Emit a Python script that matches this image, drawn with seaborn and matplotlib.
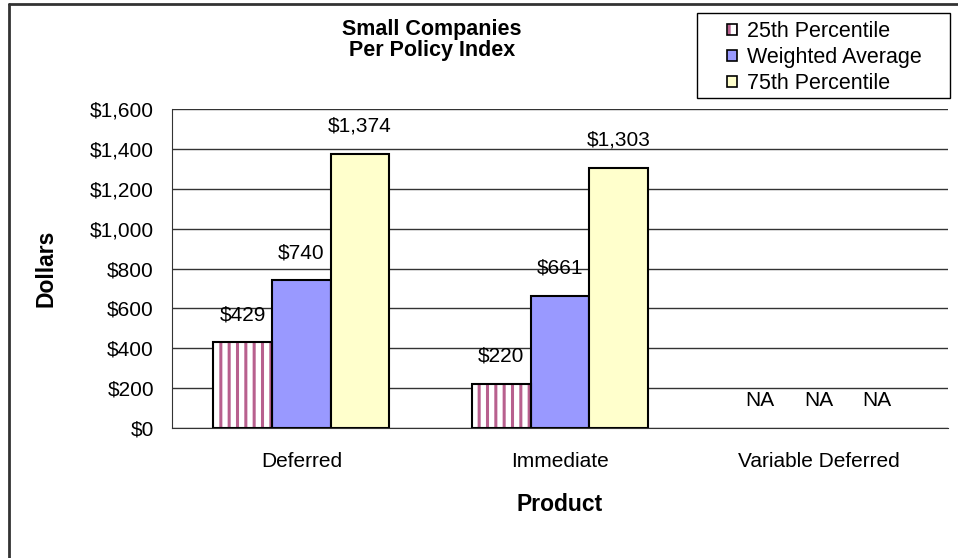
import pandas
import numpy
import matplotlib
matplotlib.use("Agg")
import matplotlib.pyplot as pyplot
import seaborn
from matplotlib.patches import Patch, Rectangle
from matplotlib.lines import Line2D
from matplotlib.ticker import StrMethodFormatter

# data
products = ["Deferred", "Immediate", "Variable Deferred"]
series = ["25th Percentile", "Weighted Average", "75th Percentile"]
p25 = [429, 220, numpy.nan]
weighted = [740, 661, numpy.nan]
p75 = [1374, 1303, numpy.nan]
colors = ["#FFFFFF", "#9999FF", "#FFFFCC"]
stripe_color = "#B8608E"

df = pandas.DataFrame(
    {
        "Product": products * 3,
        "Series": [s for s in series for _ in products],
        "Value": p25 + weighted + p75,
    }
)

# style
seaborn.set_style("white")
pyplot.rcParams["font.family"] = ["Liberation Sans", "DejaVu Sans"]
pyplot.rcParams["font.size"] = 15
pyplot.rcParams["hatch.linewidth"] = 2.2
for key in ["text.color", "axes.labelcolor", "xtick.color", "ytick.color"]:
    pyplot.rcParams[key] = "black"

W, H = 958, 558
fig = pyplot.figure(figsize=(W / 100, H / 100), dpi=100)
ax = fig.add_axes([172 / W, 1 - 428 / H, 776 / W, 319 / H])

seaborn.barplot(
    data=df,
    x="Product",
    y="Value",
    hue="Series",
    order=products,
    hue_order=series,
    palette=colors,
    saturation=1,
    width=0.68,
    edgecolor="black",
    linewidth=1.5,
    errorbar=None,
    legend=False,
    ax=ax,
)

# striped 25th percentile bars
for bar in ax.containers[0]:
    bar.set_edgecolor(stripe_color)
    bar.set_hatch("||")
    bar.set_linewidth(0)
    ax.add_patch(
        Rectangle(
            (bar.get_x(), bar.get_y()),
            bar.get_width(),
            bar.get_height(),
            fill=False,
            edgecolor="black",
            linewidth=1.5,
            zorder=bar.get_zorder() + 0.1,
        )
    )

# value labels
values = [p25, weighted, p75]
for j, container in enumerate(ax.containers):
    first = container[0]
    offset = first.get_x() + first.get_width() / 2 - 0
    for i, v in enumerate(values[j]):
        xpos = i + offset
        if numpy.isnan(v):
            text, ypos = "NA", 0
        else:
            text, ypos = f"${v:,.0f}", v
        ax.annotate(
            text,
            (xpos, ypos),
            xytext=(0, 20),
            textcoords="offset points",
            ha="center",
            va="center",
            fontsize=15,
        )

ax.set_ylim(0, 1600)
ax.set_yticks(numpy.arange(0, 1601, 200))
ax.yaxis.set_major_formatter(StrMethodFormatter("${x:,.0f}"))
ax.set_xlim(-0.5, 2.5)
ax.grid(axis="y", color="#333333", linewidth=1)
ax.set_axisbelow(True)
for side in ["top", "right"]:
    ax.spines[side].set_visible(False)
ax.spines["left"].set_color("#333333")
ax.spines["bottom"].set_color("#333333")
ax.tick_params(axis="y", direction="inout", length=8, width=1, color="#333333", pad=9, labelsize=15)
ax.tick_params(axis="x", length=0, pad=17, labelsize=15)

ax.set_xlabel("Product", fontweight="bold", fontsize=16.5, labelpad=16)
ax.set_ylabel("Dollars", fontweight="bold", fontsize=16.5, labelpad=23)

fig.text(
    432 / W,
    1 - 40 / H,
    "Small Companies\nPer Policy Index",
    ha="center",
    va="center",
    fontweight="bold",
    fontsize=15.5,
    linespacing=0.95,
)

# legend
handles = [
    (
        Patch(facecolor="white", edgecolor=stripe_color, hatch="||", linewidth=0),
        Patch(facecolor="none", edgecolor="black", linewidth=1.2),
    ),
    Patch(facecolor=colors[1], edgecolor="black", linewidth=1.2),
    Patch(facecolor=colors[2], edgecolor="black", linewidth=1.2),
]
leg = fig.legend(
    handles,
    series,
    loc="upper left",
    bbox_to_anchor=(727 / W, 1 - 21 / H),
    fontsize=15.5,
    frameon=False,
    handlelength=0.45,
    handleheight=0.45,
    handletextpad=0.5,
    labelspacing=0.24,
    borderpad=0,
    borderaxespad=0,
)
fig.add_artist(
    Rectangle(
        (697 / W, 1 - 98 / H),
        253 / W,
        85 / H,
        transform=fig.transFigure,
        fill=False,
        edgecolor="black",
        linewidth=1,
    )
)

# chart border
fig.add_artist(Line2D([8.5 / W, 8.5 / W], [0, 1 - 4 / H], color="#333333", linewidth=2))
fig.add_artist(Line2D([8.5 / W, 1], [1 - 4 / H, 1 - 4 / H], color="#333333", linewidth=2))

fig.savefig("out.png", dpi=100)
